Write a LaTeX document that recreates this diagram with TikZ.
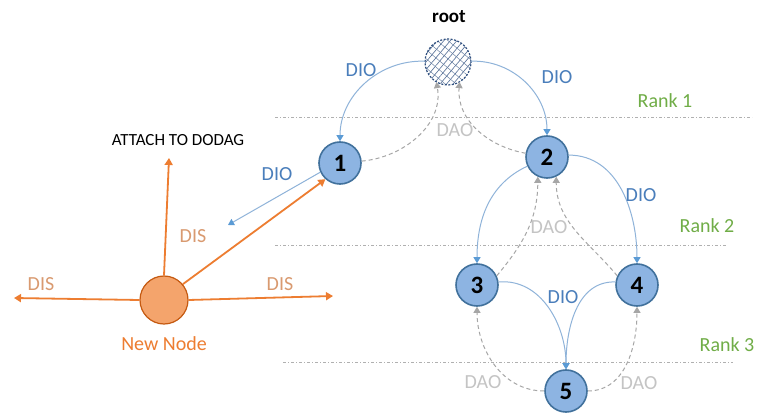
\documentclass[tikz,border=0pt]{standalone}
\usepackage{fontspec}
\setmainfont{Carlito}
\usetikzlibrary{arrows.meta,patterns.meta}
\definecolor{nodefill}{HTML}{8DB4E2}
\definecolor{nodeline}{HTML}{41719C}
\definecolor{dioline}{HTML}{8FB3D9}
\definecolor{diotip}{HTML}{5B9BD5}
\definecolor{diotext}{HTML}{4A7EBB}
\definecolor{daoline}{HTML}{A6A6A6}
\definecolor{daotext}{HTML}{C4C4C4}
\definecolor{ranktext}{HTML}{70AD47}
\definecolor{orng}{HTML}{ED7D31}
\definecolor{orngfill}{HTML}{F4A46C}
\definecolor{orngline}{HTML}{C55A11}
\definecolor{distext}{HTML}{D99A70}
\definecolor{rankline}{HTML}{B0B0B0}
\definecolor{rootline}{HTML}{2F4F7F}
\begin{document}
\begin{tikzpicture}[x=1pt,y=-1pt,
  lbl/.style={font=\fontsize{20}{24}\selectfont, inner sep=0pt},
  rnode/.style={circle, draw=nodeline, line width=1.6pt, fill=nodefill, minimum size=42pt, inner sep=0pt, font=\fontsize{25}{28}\selectfont\bfseries},
  dio/.style={draw=dioline, line width=1pt, -{Triangle[width=7pt,length=6pt,color=diotip]}},
  dao/.style={draw=daoline, line width=1pt, dashed, dash pattern=on 4pt off 3pt, -{Triangle[width=7pt,length=6pt]}},
  dis/.style={draw=orng, line width=1.8pt, -{Triangle[width=8pt,length=7pt]}},
  rankln/.style={draw=rankline, line width=0.8pt, dash pattern=on 3pt off 2pt on 1pt off 2pt},
  diolbl/.style={lbl, text=diotext},
  daolbl/.style={lbl, text=daotext},
  dislbl/.style={lbl, text=distext},
  ranklbl/.style={lbl, text=ranktext},
]
\useasboundingbox (0,0) rectangle (758,414);
\fill[white] (0,0) rectangle (758,414);

% rank lines
\coordinate (r1a) at (275,117); \coordinate (r1b) at (752,117);
\coordinate (r2a) at (275,245); \coordinate (r2b) at (727,245);
\coordinate (r3a) at (283,362); \coordinate (r3b) at (733,362);
\draw[rankln] (r1a) -- (r1b);
\draw[rankln] (r2a) -- (r2b);
\draw[rankln] (r3a) -- (r3b);
\node[ranklbl] (rank1) at (665,101) {Rank 1};
\node[ranklbl] (rank2) at (707,226) {Rank 2};
\node[ranklbl] (rank3) at (727,345) {Rank 3};

% nodes
\node[circle, minimum size=46pt, inner sep=0pt, fill=white] (root) at (448,62) {};
\fill[pattern={Lines[angle=50,distance=5pt,line width=0.6pt]}, pattern color=rootline!85] (root.center) circle[radius=23pt];
\fill[pattern={Lines[angle=-40,distance=7pt,line width=0.5pt]}, pattern color=rootline!70] (root.center) circle[radius=23pt];
\draw[rootline, dashed, dash pattern=on 2pt off 1.5pt, line width=1.2pt] (root.center) circle[radius=23pt];
\node[font=\fontsize{19}{22}\selectfont\bfseries, inner sep=0pt] (rootlbl) at (449,17) {root};
\node[rnode] (n1) at (340,163) {1};
\node[rnode] (n2) at (547,157) {2};
\node[rnode] (n3) at (477,285) {3};
\node[rnode] (n4) at (637,285) {4};
\node[rnode] (n5) at (566,391) {5};

\node[circle, draw=orngline, line width=1.2pt, fill=orngfill, minimum size=48pt, inner sep=0pt] (new) at (164,300) {};
\node[lbl, text=orng] (newlbl) at (164,344) {New Node};
\node[font=\fontsize{17}{20}\selectfont, inner sep=0pt] (attach) at (178,140) {ATTACH TO DODAG};

% DIS arrows
\coordinate (upend) at (169,158);
\coordinate (leftend) at (14,298);
\coordinate (rightend) at (333,296);
\draw[dis] (new.north) -- (upend);
\draw[dis] (new.west) -- (leftend);
\draw[dis] (new.east) -- (rightend);
\draw[dis] (new.40) -- (n1.228);
\node[dislbl] (dis1) at (193,236) {DIS};
\node[dislbl] (dis2) at (41,284) {DIS};
\node[dislbl] (dis3) at (280,284) {DIS};

% DIO arrows
\coordinate (dioend) at (228,225);
\draw[dio] (n1.205) -- (dioend);
\draw[dio] (root.178) to[out=178,in=90] (n1.north);
\draw[dio] (root.2) to[out=2,in=90] (n2.north);
\draw[dio] (n2.205) to[out=205,in=90] (n3.north);
\draw[dio] (n2.5) to[out=0,in=90] (n4.north);
\draw[dio] (n3.8) to[out=5,in=90] (n5.north);
\draw[dio] (n4.172) to[out=178,in=90] (n5.north);
\node[diolbl] (dio1) at (361,70) {DIO};
\node[diolbl] (dio2) at (557,77) {DIO};
\node[diolbl] (dio3) at (277,174) {DIO};
\node[diolbl] (dio4) at (641,195) {DIO};
\node[diolbl] (dio5) at (563,297) {DIO};

% DAO arrows
\draw[dao] (n1.5) to[out=5,in=-80] (root.240);
\draw[dao] (n2.170) to[out=170,in=-95] (root.300);
\draw[dao] (n3.25) to[out=50,in=-90] (n2.245);
\draw[dao] (n4.155) to[out=130,in=-90] (n2.295);
\draw[dao] (n5.180) to[out=180,in=-90] (n3.south);
\draw[dao] (n5.0) to[out=0,in=-90] (n4.south);
\node[daolbl] (dao1) at (455,130) {DAO};
\node[daolbl] (dao2) at (549,227) {DAO};
\node[daolbl] (dao3) at (483,382) {DAO};
\node[daolbl] (dao4) at (639,383) {DAO};
\end{tikzpicture}
\end{document}
